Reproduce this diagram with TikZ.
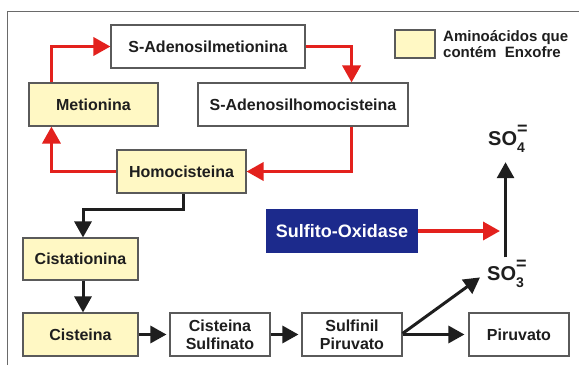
\documentclass[tikz,border=0pt]{standalone}
\usepackage{fontspec}
\setmainfont{Liberation Sans}
\usetikzlibrary{arrows.meta,calc}
\definecolor{boxyellow}{HTML}{FFF8C4}
\definecolor{linegray}{HTML}{5A5A5A}
\definecolor{framegray}{HTML}{6A6A6A}
\definecolor{arrred}{HTML}{E3211D}
\definecolor{darkblue}{HTML}{1C2A8C}
\definecolor{txt}{HTML}{1E1E1E}
\newcommand{\sulfox}[1]{{\fontsize{20}{20}\selectfont SO}\rlap{\raisebox{11pt}{\fontsize{18}{18}\selectfont =}}\raisebox{-7pt}{\fontsize{14}{14}\selectfont #1}}
\begin{document}
\begin{tikzpicture}[x=1pt,y=-1pt,
  box/.style={draw=linegray, line width=1.1pt, fill=white, minimum height=43pt, inner sep=0pt, align=center, font=\fontsize{16}{18}\selectfont\bfseries, text=txt},
  ybox/.style={box, fill=boxyellow},
  redarr/.style={draw=arrred, line width=3.5pt, -{Triangle[length=17pt,width=18pt]}},
  blkarr/.style={draw=txt, line width=3pt, -{Triangle[length=16pt,width=17pt]}},
  chem/.style={anchor=base west, inner sep=0pt, font=\bfseries, text=txt},
]
\useasboundingbox (0,0) rectangle (579,365);
\fill[white] (0,0) rectangle (579,365);
% frame
\draw[framegray, line width=1pt] (7,365) -- (7,11) -- (579,11);

% boxes
\node[box, minimum width=194pt] (sam) at (208,46.5) {S-Adenosilmetionina};
\node[ybox, minimum width=129pt] (met) at (93.5,104.5) {Metionina};
\node[box, minimum width=210pt] (sah) at (303,104.5) {S-Adenosilhomocisteina};
\node[ybox, minimum width=129pt] (hcy) at (181.5,171.5) {Homocisteina};
\node[ybox, minimum width=40pt, minimum height=28pt] (leg) at (415,44) {};
\node[anchor=west, align=left, inner sep=0pt, font=\fontsize{15}{16}\selectfont\bfseries, text=txt] (legt) at (443,44) {Aminoácidos que\\contém\ \ Enxofre};
\node[box, fill=darkblue, draw=darkblue, text=white, minimum width=150pt, minimum height=42pt, font=\fontsize{18}{20}\selectfont\bfseries] (sox) at (342,231) {Sulfito-Oxidase};
\node[ybox, minimum width=115pt, minimum height=42pt] (cist) at (80.5,259) {Cistationina};
\node[ybox, minimum width=115pt] (cys) at (80.5,334.5) {Cisteina};
\node[box, minimum width=100pt] (csf) at (220,334.5) {Cisteina\\Sulfinato};
\node[box, minimum width=100pt] (spv) at (352,334.5) {Sulfinil\\Piruvato};
\node[box, minimum width=100pt] (pir) at (519,334.5) {Piruvato};
\node[chem] (so4) at (488,145) {\sulfox{4}};
\node[chem] (so3) at (487,280) {\sulfox{3}};
\coordinate (redtip) at (500,231);

% red cycle
\draw[redarr] ([xshift=23pt]met.north west) |- (sam.west);
\draw[redarr] (sam.east) -| ([xshift=-57pt]sah.north east);
\draw[redarr] ([xshift=-57pt]sah.south east) |- (hcy.east);
\draw[redarr] (hcy.west) -| ([xshift=23pt]met.south west);
\draw[redarr] (sox.east) -- (redtip);

% black pathway
\draw[blkarr] ([xshift=1.5pt]hcy.south) -- ++(0,16) -| ([xshift=2.5pt]cist.north);
\draw[blkarr] ([xshift=2.5pt]cist.south) -- ([xshift=2.5pt]cys.north);
\draw[blkarr, shorten >=3pt] (cys.east) -- (csf.west);
\draw[blkarr, shorten >=3pt] (csf.east) -- (spv.west);
\draw[blkarr, shorten >=4pt] (spv.east) -- (pir.west);
\draw[blkarr] ([yshift=1pt]spv.east) -- ([xshift=-7pt,yshift=-4pt]so3.west);
\draw[blkarr, shorten <=2pt, shorten >=10pt] (so3.north) -- (so3.north |- so4.south);
\end{tikzpicture}
\end{document}
